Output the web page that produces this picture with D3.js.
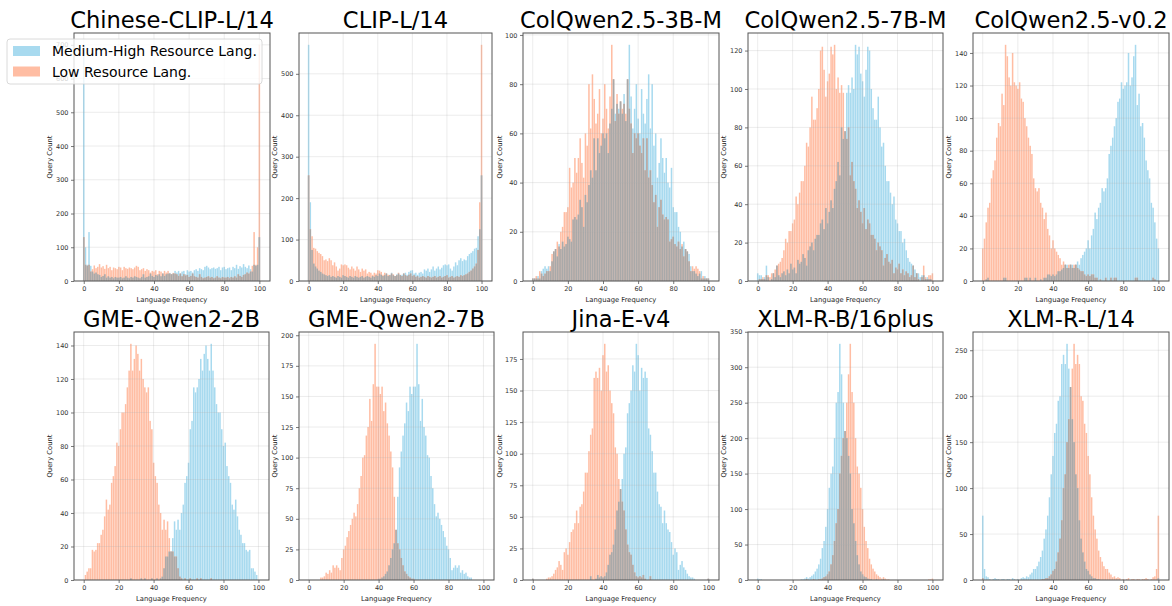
<!DOCTYPE html>
<html><head><meta charset="utf-8">
<script src="https://cdn.jsdelivr.net/npm/d3@7"></script>
<style>body{margin:0;background:#fff}svg{display:block;font-family:"DejaVu Sans",sans-serif}</style>
</head><body><svg id="c" width="1172" height="606"></svg>
<script>
// ---------- DATA ----------
const titles = ["Chinese-CLIP-L/14","CLIP-L/14","ColQwen2.5-3B-M","ColQwen2.5-7B-M","ColQwen2.5-v0.2",
                "GME-Qwen2-2B","GME-Qwen2-7B","Jina-E-v4","XLM-R-B/16plus","XLM-R-L/14"];
const seriesNames = ["Medium-High Resource Lang.","Low Resource Lang."];
const xTickLabels = [0,20,40,60,80,100];
const yTicks = [
  [0,100,200,300,400,500,600,700],
  [0,100,200,300,400,500],
  [0,20,40,60,80,100],
  [0,20,40,60,80,100,120],
  [0,20,40,60,80,100,120,140],
  [0,20,40,60,80,100,120,140],
  [0,25,50,75,100,125,150,175,200],
  [0,25,50,75,100,125,150,175],
  [0,50,100,150,200,250,300,350],
  [0,50,100,150,200,250]
];
// query counts per language-frequency bin 0..100
const highChineseClip = [700,100,48,145,45,28,22,25,20,18, 12,15,20,10,14,10,12,8,12,10, 10,12,8,10,14,10,8,12,10,14, 12,10,8,12,20,10,12,14,22,15, 12,18,16,20,14,22,15,20,22,24, 20,22,30,25,30,22,28,30,20,32, 28,30,25,32,35,30,38,35,32,42, 45,40,35,38,40,36,38,42,32,40, 42,35,38,40,32,42,38,48,36,44, 40,50,42,38,46,35,28,48,45,48, 130];
const lowChineseClip = [130,48,45,48,28,35,46,38,42,50, 40,44,36,48,38,42,32,40,38,35, 42,40,32,42,38,36,40,38,35,40, 45,42,32,35,38,30,35,32,25,30, 28,32,20,30,28,22,30,25,30,22, 20,24,22,20,15,22,14,20,16,18, 12,15,22,14,12,10,20,12,8,10, 12,14,10,12,8,10,14,10,8,12, 10,10,12,8,12,10,14,10,20,15, 12,18,20,25,22,28,45,145,48,100, 700];
const highClip = [570,190,75,42,35,30,25,22,18,16, 14,12,14,10,12,10,8,12,10,8, 14,12,10,8,12,10,8,12,10,8, 10,12,8,10,12,10,8,12,10,14, 12,18,15,12,14,18,12,15,20,14, 12,16,18,14,15,18,20,15,22,25, 26,18,20,15,20,22,18,28,25,30, 22,28,35,25,30,35,28,32,38,40, 38,40,30,25,35,45,38,50,55,48, 52,50,60,65,68,72,78,80,108,125, 255];
const lowClip = [255,125,108,80,78,72,68,65,60,50, 52,48,55,50,38,45,35,25,30,40, 38,40,38,32,28,35,30,25,35,28, 22,30,25,28,18,22,20,15,20,18, 26,25,22,15,20,18,15,14,18,16, 12,14,20,15,12,18,14,12,15,18, 12,14,10,12,8,10,12,10,8,12, 10,8,10,12,8,10,12,8,10,12, 14,8,10,12,8,10,12,10,14,12, 14,16,18,22,25,30,35,42,75,190, 570];
const highColQwen3B = [1,1,1,2,1,4,5,6,5,6, 4,8,12,13,10,15,13,16,14,15, 18,17,16,25,26,25,27,33,30,22, 35,32,39,45,42,58,45,58,52,55, 60,58,60,52,64,70,82,68,72,70, 73,68,76,65,82,96,75,62,70,80, 66,60,78,68,64,74,84,62,80,55, 60,42,48,58,50,44,50,40,38,46, 30,28,28,22,20,14,16,13,12,11, 6,4,4,3,2,3,4,1,2,1, 1];
const lowColQwen3B = [1,1,2,1,4,3,2,3,4,4, 6,11,12,13,16,14,20,22,28,28, 30,46,38,40,50,44,50,58,48,42, 60,55,80,62,84,74,64,68,78,60, 66,80,70,62,75,96,82,65,76,68, 73,70,72,68,82,70,64,52,60,58, 60,55,52,58,45,58,42,45,39,32, 35,22,30,33,27,25,26,25,16,17, 18,15,14,16,13,15,10,13,12,8, 4,6,5,6,5,4,1,2,1,1, 1];
const highColQwen7B = [4,3,3,1,2,8,2,0,1,4, 2,8,3,2,4,5,3,6,4,9, 6,7,4,11,9,10,14,12,8,16, 18,20,16,22,24,24,30,32,27,38, 30,36,42,38,48,52,62,55,80,74, 78,98,102,98,106,100,123,118,122,108, 104,96,110,122,120,100,90,84,84,96, 80,70,72,60,52,52,46,40,44,32, 30,26,26,20,22,16,12,10,9,8, 6,4,4,2,3,3,1,2,1,1, 0];
const lowColQwen7B = [0,1,1,2,1,3,3,2,4,4, 6,8,9,10,12,16,22,20,26,26, 30,32,44,40,46,52,52,60,72,70, 80,96,84,84,90,100,120,122,110,96, 104,108,122,118,123,100,106,98,102,98, 78,74,80,55,62,52,48,38,42,36, 30,38,27,32,30,24,24,22,16,20, 18,16,8,12,14,10,9,11,4,7, 6,9,4,6,3,5,4,2,3,8, 2,4,1,0,2,8,2,1,3,3, 4];
const highColQwenV02 = [0,0,1,2,0,0,0,0,0,0, 0,0,2,2,0,0,0,0,0,0, 0,0,0,0,2,2,0,2,0,0, 2,0,0,1,0,2,2,4,4,3, 4,3,4,6,6,7,8,10,10,8, 10,10,8,10,12,10,14,16,18,20, 25,20,28,32,42,38,45,48,57,55, 57,63,78,83,88,95,100,110,112,122, 118,120,122,140,120,125,138,145,108,115, 95,97,88,74,68,63,48,45,36,26, 20];
const lowColQwenV02 = [20,26,36,45,48,63,68,74,88,97, 95,115,108,145,138,125,120,140,122,120, 118,122,112,110,100,95,88,83,78,63, 57,55,57,48,45,38,42,32,28,20, 25,20,18,16,14,10,12,10,8,10, 10,8,10,10,8,7,6,6,4,3, 4,3,4,4,2,2,0,1,0,0, 2,0,0,2,0,2,2,0,0,0, 0,0,0,0,0,0,0,2,2,0, 0,0,0,0,0,0,0,2,1,0, 0];
const highGme2B = [0,0,0,0,0,0,0,0,0,0, 0,0,0,0,0,0,0,0,0,0, 0,0,0,0,0,0,0,1,0,0, 0,0,0,1,0,1,0,0,0,1, 0,0,1,0,1,2,7,14,14,17, 17,25,35,30,36,30,40,45,58,62, 70,90,95,115,112,115,120,132,125,135, 140,132,125,141,125,115,105,100,100,90, 80,82,68,62,58,45,42,48,38,30, 27,22,22,18,17,18,7,7,5,3, 0];
const lowGme2B = [0,3,5,7,7,18,17,18,22,22, 27,30,38,48,42,45,58,62,68,82, 80,90,100,100,105,115,125,141,125,132, 140,135,125,132,120,115,112,115,95,90, 70,62,58,45,40,30,36,30,35,25, 17,17,14,14,7,2,1,0,1,0, 0,1,0,0,0,1,0,1,0,0, 0,0,0,1,0,0,0,0,0,0, 0,0,0,0,0,0,0,0,0,0, 0,0,0,0,0,0,0,0,0,0, 0];
const highGme7B = [0,0,0,0,0,0,0,0,0,0, 0,0,0,0,0,0,0,0,0,0, 0,0,0,0,0,0,0,0,0,0, 0,0,0,0,0,0,0,0,0,0, 1,1,2,3,5,7,12,18,25,30, 41,68,92,105,118,128,145,138,158,152, 158,158,193,160,130,148,125,118,102,100, 85,75,62,52,55,50,45,40,35,28, 25,18,8,10,12,10,12,6,8,5, 6,3,2,2,0,0,0,0,0,0, 0];
const lowGme7B = [0,0,0,0,0,0,0,2,2,3, 6,5,8,6,12,10,12,10,8,18, 25,28,35,40,45,50,55,52,62,75, 85,100,102,118,125,148,130,160,193,158, 158,152,158,138,145,128,118,105,92,68, 41,30,25,18,12,7,5,3,2,1, 1,0,0,0,0,0,0,0,0,0, 0,0,0,0,0,0,0,0,0,0, 0,0,0,0,0,0,0,0,0,0, 0,0,0,0,0,0,0,0,0,0, 0];
const highJina = [1,0,0,0,0,0,0,0,0,0, 0,0,0,0,0,0,0,0,0,0, 0,0,0,0,0,0,0,0,0,0, 0,0,0,3,0,0,1,4,2,3, 2,3,6,12,20,22,28,40,55,62, 72,80,100,105,132,140,150,170,165,187, 178,150,168,160,165,160,120,115,102,85, 85,70,60,58,45,55,45,40,38,30, 20,25,22,8,12,15,10,8,5,3, 2,2,1,0,0,0,0,0,0,0, 1];
const lowJina = [1,0,0,0,0,0,0,0,1,2, 2,3,5,8,10,15,12,8,22,25, 20,30,38,40,45,55,45,58,60,70, 85,85,102,115,120,160,165,160,168,150, 178,187,165,170,150,140,132,105,100,80, 72,62,55,40,28,22,20,12,6,3, 2,3,2,4,1,0,0,3,0,0, 0,0,0,0,0,0,0,0,0,0, 0,0,0,0,0,0,0,0,0,0, 0,0,0,0,0,0,0,0,0,0, 1];
const highXlmB = [2,1,1,0,0,0,0,0,0,0, 0,0,0,0,0,0,0,0,0,0, 0,0,0,0,0,1,1,2,4,2, 4,6,8,12,16,22,30,45,55,75, 100,130,150,160,200,250,265,333,290,250, 210,200,175,150,100,80,55,35,22,12, 8,5,4,2,1,1,0,0,1,0, 0,0,1,0,0,0,0,0,0,0, 0,0,0,0,0,0,0,0,0,0, 0,0,0,0,0,0,0,0,0,0, 0];
const lowXlmB = [0,0,0,0,0,0,0,0,0,0, 0,0,0,0,0,0,0,0,0,0, 0,0,0,0,0,0,0,0,1,0, 0,0,1,0,0,1,1,2,4,5, 8,12,22,35,55,80,100,150,175,200, 210,250,290,333,265,250,200,160,150,130, 100,75,55,45,30,22,16,12,8,6, 4,2,4,2,1,1,0,0,0,0, 0,0,0,0,0,0,0,0,0,0, 0,0,0,0,0,0,0,0,1,1, 2];
const highXlmL = [70,12,4,3,1,0,1,2,1,1, 0,1,1,0,1,1,0,2,1,0, 1,0,2,3,2,4,3,6,8,12, 12,15,20,25,32,45,55,70,90,115, 135,160,170,195,200,235,245,235,257,230, 210,175,150,115,100,65,45,30,20,12, 10,6,4,2,2,1,1,0,0,0, 0,0,0,0,0,0,0,0,0,0, 0,0,0,0,0,0,0,0,0,0, 0,0,0,0,0,0,0,0,0,0, 2];
const lowXlmL = [2,0,0,0,0,0,0,0,0,0, 0,0,0,0,0,0,0,0,0,0, 0,0,0,0,0,0,0,0,0,0, 0,0,0,0,1,1,2,2,4,6, 10,12,20,30,45,65,100,115,150,175, 210,230,257,235,245,235,200,195,170,160, 135,115,90,70,55,45,32,25,20,15, 12,12,8,6,3,4,2,3,2,0, 1,0,1,2,0,1,1,0,1,1, 0,1,1,2,1,0,1,3,4,12, 70];

const highSeries = [highChineseClip,highClip,highColQwen3B,highColQwen7B,highColQwenV02,highGme2B,highGme7B,highJina,highXlmB,highXlmL];
const lowSeries  = [lowChineseClip,lowClip,lowColQwen3B,lowColQwen7B,lowColQwenV02,lowGme2B,lowGme7B,lowJina,lowXlmB,lowXlmL];

// ---------- LAYOUT ----------
const rects = [
  {l:74,r:270,t:33,b:281},{l:299,r:492,t:33,b:281},{l:523,r:719,t:33,b:281},{l:748,r:943,t:33,b:281},{l:973,r:1169,t:33,b:281},
  {l:74,r:269,t:332,b:580},{l:299,r:494,t:332,b:580},{l:523,r:719,t:332,b:580},{l:748,r:943,t:332,b:580},{l:973,r:1169,t:332,b:580}
];
const yLabelX = [51.5,276.5,501.5,725.5,950.5];
const COL_HIGH = "#a8daef", COL_LOW = "#ffbda3", COL_OVER = "#a9a9a9";

const svg = d3.select("#c");

function drawPanel(k){
  const rc = rects[k], high = highSeries[k], low = lowSeries[k];
  const bins = high.map((_, i) => i);
  const g = svg.append("g");
  const x = d3.scaleLinear().domain([-5.55, 106.05]).range([rc.l, rc.r]);
  const ymax = d3.max(high.concat(low)) * 1.05;
  const y = d3.scaleLinear().domain([0, ymax]).range([rc.b, rc.t]);

  const clip = "clip" + k;
  g.append("clipPath").attr("id", clip).append("rect")
    .attr("x", rc.l).attr("y", rc.t).attr("width", rc.r - rc.l).attr("height", rc.b - rc.t);
  const plot = g.append("g").attr("clip-path", `url(#${clip})`);

  const bw = x(1) - x(0);
  const drawBars = (vals, color) => {
    plot.append("g").selectAll("rect").data(bins.filter(i => vals[i] > 0)).join("rect")
      .attr("x", i => x(i - 0.5) + 0.12)
      .attr("width", bw - 0.24)
      .attr("y", i => y(vals[i]))
      .attr("height", i => y(0) - y(vals[i]))
      .attr("fill", color);
  };
  drawBars(high, COL_HIGH);
  drawBars(low, COL_LOW);
  const over = bins.map(i => Math.min(high[i], low[i]));
  drawBars(over, COL_OVER);

  // grid
  const grid = g.append("g").attr("stroke", "#b0b0b0").attr("stroke-opacity", 0.3).attr("stroke-width", 0.8);
  xTickLabels.forEach(v => grid.append("line").attr("x1", x(v)).attr("x2", x(v)).attr("y1", rc.t).attr("y2", rc.b));
  yTicks[k].forEach(v => grid.append("line").attr("x1", rc.l).attr("x2", rc.r).attr("y1", y(v)).attr("y2", y(v)));

  // axes
  const ax = g.append("g").attr("transform", `translate(0,${rc.b})`)
    .call(d3.axisBottom(x).tickValues(xTickLabels).tickSize(3).tickPadding(2.5));
  const ay = g.append("g").attr("transform", `translate(${rc.l},0)`)
    .call(d3.axisLeft(y).tickValues(yTicks[k]).tickSize(3).tickPadding(2.5));
  [ax, ay].forEach(a => {
    a.select(".domain").remove();
    a.selectAll(".tick line").attr("stroke", "#555").attr("stroke-width", 0.8);
    a.selectAll(".tick text").attr("fill", "#333").style("font-size", "6.5px").style("font-family", "DejaVu Sans");
  });

  // frame
  g.append("rect").attr("x", rc.l).attr("y", rc.t).attr("width", rc.r - rc.l).attr("height", rc.b - rc.t)
    .attr("fill", "none").attr("stroke", "#555").attr("stroke-width", 1);

  // title
  g.append("text").attr("x", (rc.l + rc.r) / 2).attr("y", rc.t - 5).attr("text-anchor", "middle")
    .style("font-size", "22.6px").attr("fill", "#000").text(titles[k]);
  // x label
  g.append("text").attr("x", (rc.l + rc.r) / 2).attr("y", rc.b + 21).attr("text-anchor", "middle")
    .style("font-size", "6.8px").attr("fill", "#222").text("Language Frequency");
  // y label
  const lx = yLabelX[k % 5], ly = (rc.t + rc.b) / 2;
  g.append("text").attr("transform", `translate(${lx},${ly}) rotate(-90)`).attr("text-anchor", "middle")
    .style("font-size", "6.8px").attr("fill", "#222").text("Query Count");
}

for (let k = 0; k < 10; k++) drawPanel(k);

// legend
const lg = svg.append("g");
lg.append("rect").attr("x", 7).attr("y", 39).attr("width", 255).attr("height", 45).attr("rx", 3)
  .attr("fill", "#fff").attr("fill-opacity", 0.8).attr("stroke", "#d0d0d0").attr("stroke-width", 0.8);
[COL_HIGH, COL_LOW].forEach((c, i) => {
  lg.append("rect").attr("x", 13).attr("y", 46 + i * 20.5).attr("width", 27).attr("height", 10).attr("fill", c);
  lg.append("text").attr("x", 52).attr("y", 56 + i * 20.5).style("font-size", "14px").attr("fill", "#000").text(seriesNames[i]);
});
</script></body></html>
